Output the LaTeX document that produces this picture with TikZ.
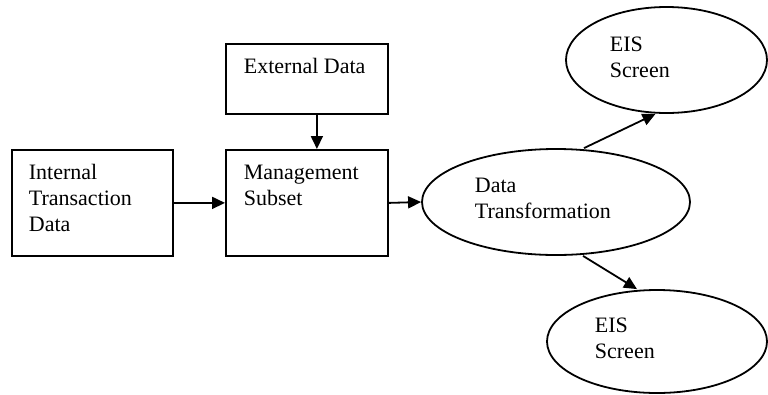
\documentclass[tikz,border=0pt]{standalone}
\usepackage{fontspec}
\setmainfont{Liberation Serif}
\usetikzlibrary{arrows.meta,shapes.geometric}
\begin{document}
\begin{tikzpicture}[x=1pt,y=-1pt,
  line width=1.8pt,
  boxnode/.style={draw,rectangle,inner sep=0pt,anchor=north west},
  ovalnode/.style={draw,ellipse,inner sep=0pt},
  txt/.style={inner sep=0pt,anchor=base west,align=left,
    font=\fontsize{22}{26}\selectfont},
  flow/.style={-{Triangle[length=13pt,width=12pt]}}]
\useasboundingbox (0,0) rectangle (768,394);
\clip (0,0) rectangle (768,394);
% rectangular stores
\node[boxnode,minimum width=161pt,minimum height=106pt] (itd) at (11,149) {};
\node[boxnode,minimum width=162pt,minimum height=70pt] (ext) at (225,43) {};
\node[boxnode,minimum width=162pt,minimum height=106pt] (mgt) at (225,149) {};
% processes and screens
\node[ovalnode,minimum width=268pt,minimum height=106pt] (dtf) at (556,202) {};
\node[ovalnode,minimum width=201pt,minimum height=106pt] (eisa) at (666.5,60) {};
\node[ovalnode,minimum width=220pt,minimum height=103pt] (eisb) at (657,341.5) {};
% labels (anchored at the baseline of the last line)
\node[txt] (itdl) at (28,231) {Internal\\Transaction\\Data};
\node[txt] (extl) at (243,73) {External Data};
\node[txt] (mgtl) at (243,205) {Management\\Subset};
\node[txt] (dtfl) at (474,218) {Data\\Transformation};
\node[txt] (eisal) at (609,77) {EIS\\Screen};
\node[txt] (eisbl) at (594,358) {EIS\\Screen};
% flows
\draw[flow] (itd.east) -- (mgt.west);
\draw[flow] ([xshift=10pt]ext.south) -- ([xshift=10pt]mgt.north);
\draw[flow] (mgt.east) -- (dtf.west);
\draw[flow] ([xshift=28pt]dtf.north) -- ([xshift=-11pt]eisa.south);
\draw[flow] ([xshift=27pt]dtf.south) -- ([xshift=-20pt]eisb.north);
\end{tikzpicture}
\end{document}
